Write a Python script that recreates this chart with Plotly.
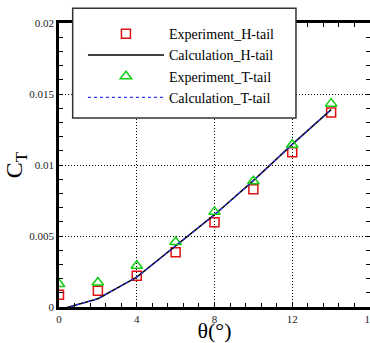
import plotly.graph_objects as go

theta_exp = [0, 2, 4, 6, 8, 10, 12, 14]
ct_exp_h = [0.00087, 0.00115, 0.0022, 0.00385, 0.00596, 0.0083, 0.0109, 0.0137]
ct_exp_t = [0.00162, 0.00173, 0.0029, 0.00458, 0.0067, 0.00885, 0.01143, 0.01432]
theta_calc = [0, 2, 4, 6, 8, 10, 12, 14]
ct_calc_h = [-0.0002, 0.00058, 0.0021, 0.0043, 0.0065, 0.0089, 0.01145, 0.0139]
ct_calc_t = [-0.0002, 0.00058, 0.0021, 0.0043, 0.0065, 0.0089, 0.01145, 0.0139]

x_ticks = [0, 4, 8, 12, 16]
x_ticklabels = ["0", "4", "8", "12", "16"]
y_ticks = [0, 0.005, 0.01, 0.015, 0.02]
y_ticklabels = ["0", "0.005", "0.01", "0.015", "0.02"]

SERIF = "Liberation Serif, Times New Roman, serif"

fig = go.Figure()
fig.add_trace(go.Scatter(x=theta_exp, y=ct_exp_h, mode="markers", name="Experiment_H-tail",
                         marker=dict(symbol="square-open", size=9, color="#dd1111", line=dict(width=1.5))))
fig.add_trace(go.Scatter(x=theta_calc, y=ct_calc_h, mode="lines", name="Calculation_H-tail",
                         line=dict(color="black", width=1.5)))
fig.add_trace(go.Scatter(x=theta_exp, y=ct_exp_t, mode="markers", name="Experiment_T-tail",
                         marker=dict(symbol="triangle-up-open", size=10, color="#11cc11", line=dict(width=1.5))))
fig.add_trace(go.Scatter(x=theta_calc, y=ct_calc_t, mode="lines", name="Calculation_T-tail",
                         line=dict(color="#3333ff", width=1.2, dash="dot")))

axis_common = dict(
    showline=True, linewidth=2.5, linecolor="black", mirror="ticks",
    ticks="inside", ticklen=4, tickwidth=1, tickcolor="black",
    showgrid=True, gridcolor="black", gridwidth=1, griddash="1px,2px",
    zeroline=False, ticklabeloverflow="allow",
    tickfont=dict(family=SERIF, size=11, color="#222"),
)

fig.update_xaxes(
    range=[0, 16], tickvals=x_ticks, ticktext=x_ticklabels,
    minor=dict(dtick=0.8, tick0=0, ticks="inside", ticklen=4, tickcolor="black", showgrid=False),
    title=dict(text="θ(°)", font=dict(family=SERIF, size=22, color="black"), standoff=6),
    **axis_common,
)
fig.update_yaxes(
    range=[0, 0.02], tickvals=y_ticks, ticktext=y_ticklabels,
    minor=dict(dtick=0.001, tick0=0, ticks="inside", ticklen=4, tickcolor="black", showgrid=False),
    title=dict(text="C<sub>T</sub>", font=dict(family=SERIF, size=24, color="black"), standoff=0),
    **axis_common,
)

# legend frame
fig.add_shape(type="rect", xref="paper", yref="paper",
              x0=0.044, x1=0.762, y0=0.6655, y1=1.052,
              fillcolor="white", line=dict(color="#333", width=1.5), layer="above")

fig.update_layout(
    width=370, height=343,
    margin=dict(l=59, r=0, t=23, b=36, autoexpand=False),
    plot_bgcolor="white", paper_bgcolor="white",
    showlegend=True,
    legend=dict(
        x=0.077, y=1.0169, xanchor="left", yanchor="top",
        bgcolor="rgba(0,0,0,0)", borderwidth=0,
        font=dict(family=SERIF, size=14, color="black"),
        itemwidth=76, tracegroupgap=0,
    ),
)

fig.write_html("out.html", config={"displayModeBar": False},
               post_script="document.body.style.margin='0';document.body.style.overflow='hidden';")
